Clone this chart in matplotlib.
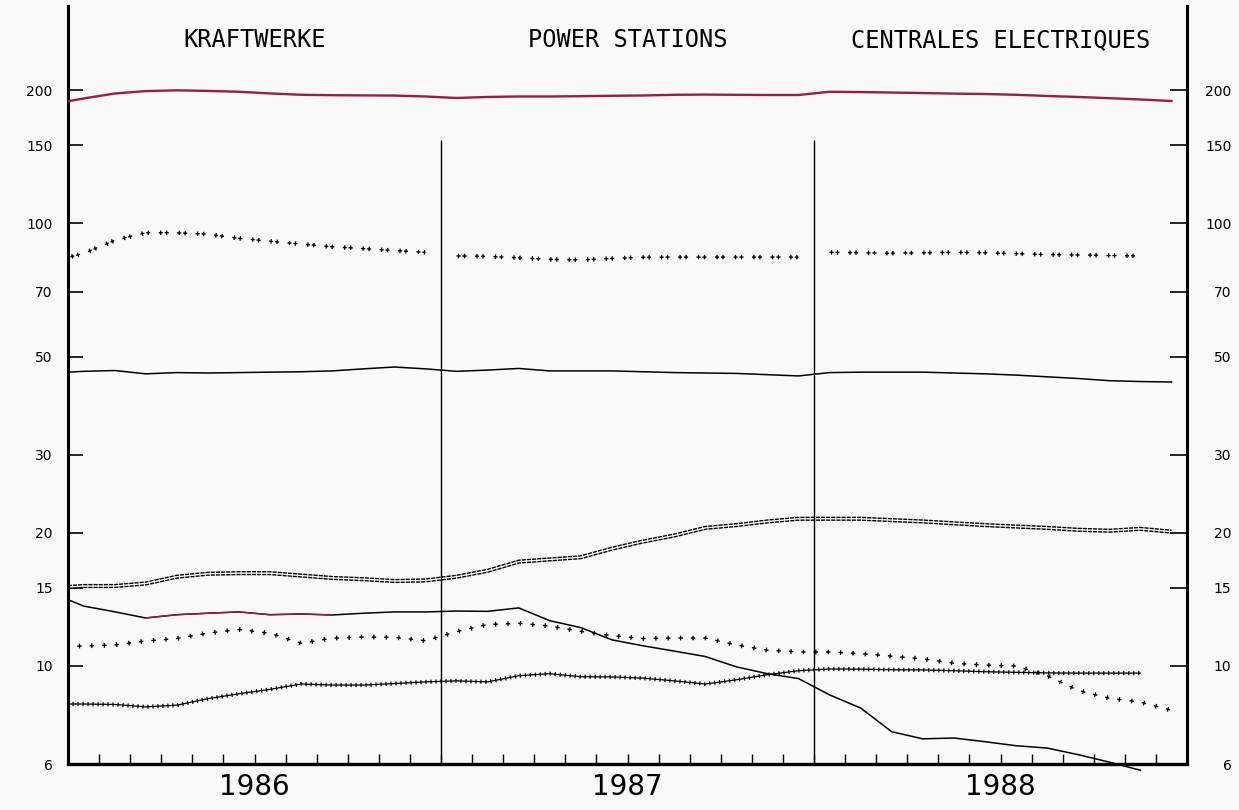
import numpy as np
import matplotlib
matplotlib.use("Agg")
import matplotlib.pyplot as plt
from matplotlib.ticker import NullLocator, NullFormatter

plt.rcParams['lines.scale_dashes'] = False

# ---------------- data (mid-month values, Dec 1985 ... Dec 1988) ----------------
years = ["1986", "1987", "1988"]
titles = ["KRAFTWERKE", "POWER STATIONS", "CENTRALES ELECTRIQUES"]
ytick_values = [6, 10, 15, 20, 30, 50, 70, 100, 150, 200]
ytick_labels = ["6", "10", "15", "20", "30", "50", "70", "100", "150", "200"]

total = [186, 191.5, 196.5, 199, 199.8, 199.2, 198.3, 196.6, 195.2, 194.8, 194.6, 194.4, 193.5,
         192, 193, 193.5, 193.5, 193.8, 194.2, 194.5, 195.2, 195.4, 195.2, 195, 195,
         198.3, 198, 197.5, 197, 196.4, 196, 195.2, 194, 193, 191.8, 190.5, 189]

pairs_1986 = [82, 85.5, 91.5, 95.2, 95.2, 94.5, 92.5, 91.1, 89.8, 88.5, 87.7, 86.8, 86.0]
pairs_1987 = [84.4, 84.2, 83.6, 82.9, 82.7, 83.3, 83.8, 83.9, 83.9, 83.9, 83.9, 83.9]
pairs_1988 = [86.0, 85.8, 85.6, 85.8, 86.0, 85.8, 85.4, 85.0, 84.8, 84.6, 84.4]

solid46 = [45.9, 46.3, 46.5, 45.7, 46.0, 45.9, 46.0, 46.1, 46.2, 46.4, 46.9, 47.35, 46.9,
           46.3, 46.6, 47.0, 46.4, 46.4, 46.4, 46.2, 46.0, 45.9, 45.8, 45.5, 45.2,
           46.0, 46.1, 46.1, 46.1, 45.9, 45.7, 45.4, 45.0, 44.6, 44.1, 43.9, 43.8]

double20 = [15.0, 15.15, 15.15, 15.35, 15.9, 16.15, 16.2, 16.2, 16.0, 15.8, 15.7, 15.55, 15.6,
            15.9, 16.4, 17.2, 17.4, 17.6, 18.4, 19.1, 19.7, 20.5, 20.8, 21.2, 21.5,
            21.5, 21.5, 21.35, 21.2, 21.0, 20.8, 20.65, 20.5, 20.3, 20.2, 20.4, 20.1]

falling = [14.6, 13.65, 13.25, 12.83, 13.05, 13.15, 13.24, 13.05, 13.1, 13.03, 13.15, 13.24, 13.24,
           13.3, 13.28, 13.52, 12.65, 12.2, 11.45, 11.1, 10.8, 10.5, 9.95, 9.6, 9.36,
           8.6, 8.03, 7.1, 6.84, 6.87, 6.74, 6.6, 6.52, 6.3, 6.06, 5.81]

sparse = [11.05, 11.09, 11.15, 11.38, 11.53, 11.86, 12.08, 11.85, 11.25, 11.55, 11.62, 11.6, 11.4,
          11.95, 12.4, 12.48, 12.3, 11.97, 11.7, 11.53, 11.56, 11.56, 11.15, 10.85, 10.75,
          10.75, 10.66, 10.52, 10.37, 10.14, 10.04, 9.99, 9.5, 8.8, 8.45, 8.28, 7.94]

dense = [8.2, 8.2, 8.18, 8.08, 8.15, 8.43, 8.65, 8.85, 9.1, 9.05, 9.05, 9.12, 9.2,
         9.25, 9.2, 9.5, 9.6, 9.45, 9.44, 9.38, 9.25, 9.1, 9.3, 9.55, 9.75,
         9.84, 9.83, 9.8, 9.79, 9.75, 9.7, 9.67, 9.64, 9.63, 9.63, 9.63]

CRIMSON = "#a3184a"
BG = "#f9f9f9"


def months_from_dec85(vals):
    return np.arange(len(vals)) - 0.5


def plus_marks(ax, x, y, spacing, arm, pair=None, lw_h=1.0, lw_v=3.2, bar=0.95):
    """Draw '+' signs along a path using two aligned dash patterns."""
    if pair is None:
        ax.plot(x, y, color="black", lw=lw_h, linestyle=(0, (arm, spacing - arm)))
        ax.plot(x, y, color="black", lw=lw_v,
                linestyle=(spacing - (arm / 2 - bar / 2), (bar, spacing - bar)))
    else:
        d = pair
        ax.plot(x, y, color="black", lw=lw_h,
                linestyle=(0, (arm, d - arm, arm, spacing - d - arm)))
        ax.plot(x, y, color="black", lw=lw_v,
                linestyle=(spacing - (arm / 2 - bar / 2), (bar, d - bar, bar, spacing - d - bar)))


fig = plt.figure(figsize=(12.39, 8.10), dpi=100, facecolor=BG)
ax = fig.add_axes([68 / 1239, (810 - 777.3) / 810, 1119 / 1239, 771.4 / 810])
ax.set_facecolor(BG)
ax.set_yscale("log")
ax.set_xlim(0, 36)
ax.set_ylim(5.6, 310)

# ---- series ----
ax.plot(months_from_dec85(total), total, color=CRIMSON, lw=1.7, zorder=3)

plus_marks(ax, np.arange(13) - 0.5, pairs_1986, spacing=13.3, arm=2.9, pair=4.3)
plus_marks(ax, 12 + np.arange(12) + 0.5, pairs_1987, spacing=13.3, arm=2.9, pair=4.3)
plus_marks(ax, 24 + np.arange(11) + 0.5, pairs_1988, spacing=13.3, arm=2.9, pair=4.3)

ax.plot(months_from_dec85(solid46), solid46, color="black", lw=1.1)

xd = months_from_dec85(double20)
ax.plot(xd, double20, color="black", lw=3.0, linestyle=(0, (3.0, 0.7)))
ax.plot(xd, double20, color="white", lw=1.0)

xf = months_from_dec85(falling)
ax.plot(xf, falling, color="black", lw=1.1)
ax.plot(xf[3:10], falling[3:10], color=CRIMSON, lw=1.0)

plus_marks(ax, months_from_dec85(sparse), sparse, spacing=8.93, arm=3.2, lw_v=3.4)

xs = months_from_dec85(dense)
ax.plot(xs, dense, color="black", lw=0.9)
ax.plot(xs, dense, color="black", lw=3.0, linestyle=(0, (0.85, 2.75)))

# year separators
ax.vlines([12, 24], 6, 154, color="black", lw=1.0)

# ---- spines ----
ax.spines["top"].set_visible(False)
ax.spines["bottom"].set_position(("data", 6))
ax.spines["bottom"].set_linewidth(2.4)
for side in ("left", "right"):
    ax.spines[side].set_linewidth(2.2)
    ax.spines[side].set_bounds(6, 310)

# ---- ticks ----
ax.set_xticks(range(0, 37, 3))
ax.set_xticks(range(0, 37), minor=True)
ax.tick_params(axis="x", which="major", direction="in", length=15, width=1.0,
               labelbottom=False, top=False)
ax.tick_params(axis="x", which="minor", direction="in", length=7, width=1.0, top=False)

ax.yaxis.set_minor_locator(NullLocator())
ax.yaxis.set_minor_formatter(NullFormatter())
ax.set_yticks(ytick_values)
ax.set_yticklabels(ytick_labels, fontsize=10, family="DejaVu Sans")
ax.tick_params(axis="y", which="major", direction="in", length=11, width=1.2, pad=11,
               left=True, right=False)

ax2 = ax.twinx()
ax2.set_yscale("log")
ax2.set_ylim(ax.get_ylim())
ax2.yaxis.set_minor_locator(NullLocator())
ax2.yaxis.set_minor_formatter(NullFormatter())
ax2.set_yticks(ytick_values)
ax2.set_yticklabels(ytick_labels, fontsize=10, family="DejaVu Sans", ha="right")
ax2.tick_params(axis="y", which="major", direction="in", length=12, width=1.2, pad=32)
for s in ax2.spines.values():
    s.set_visible(False)
ax2.set_xticks([])

# ---- texts ----
for i, (yr, ttl) in enumerate(zip(years, titles)):
    cx = 6 + 12 * i
    ax.text(cx, 5.32, yr, ha="center", va="center", fontsize=20, family="DejaVu Sans",
            clip_on=False)
    ax.text(cx, 260, ttl, ha="center", va="center", fontsize=17, family="DejaVu Sans Mono")

fig.savefig("out.png", dpi=100, facecolor=BG)
